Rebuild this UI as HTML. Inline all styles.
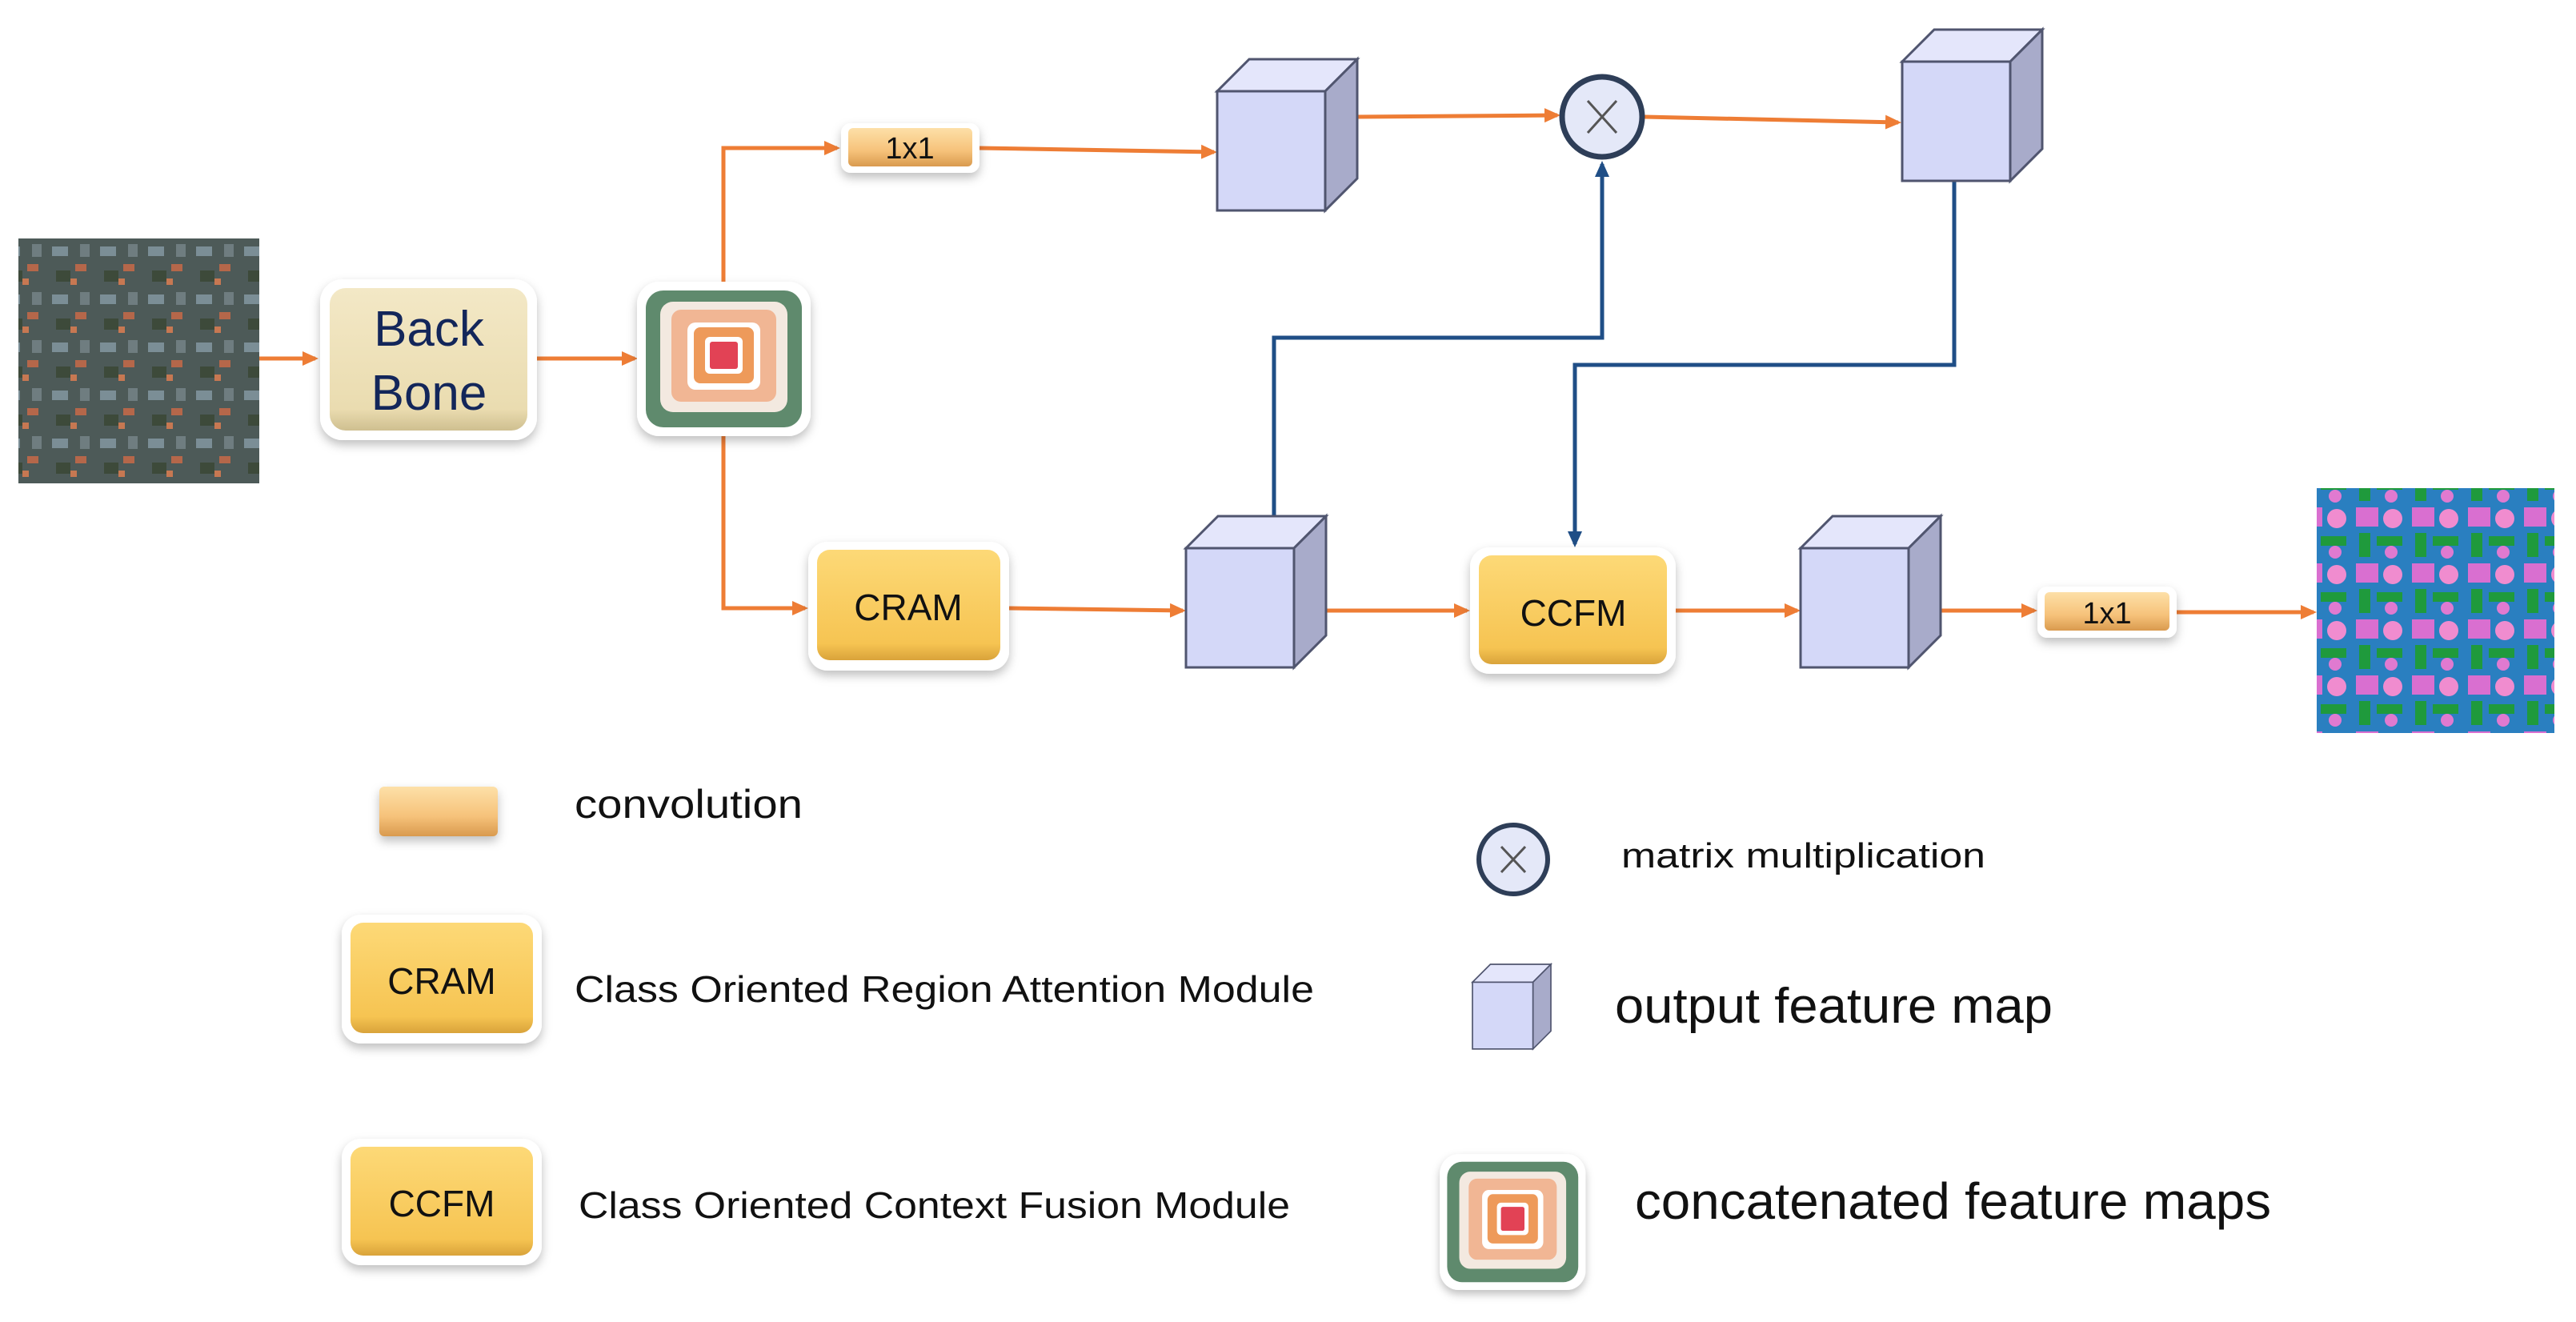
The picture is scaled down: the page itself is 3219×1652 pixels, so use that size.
<!DOCTYPE html>
<html><head><meta charset="utf-8"><style>
html,body{margin:0;padding:0;background:#fff;}
svg{display:block;}
text{font-family:"Liberation Sans",sans-serif;}
</style></head><body>
<svg width="3219" height="1652" viewBox="0 0 3219 1652" xmlns="http://www.w3.org/2000/svg">
<defs>
<marker id="ao" markerWidth="20" markerHeight="18" refX="16" refY="9" orient="auto" markerUnits="userSpaceOnUse" viewBox="0 0 20 18"><path d="M0,0 L20,9 L0,18 z" fill="#ee7d35"/></marker>
<marker id="ab" markerWidth="20" markerHeight="18" refX="16" refY="9" orient="auto" markerUnits="userSpaceOnUse" viewBox="0 0 20 18"><path d="M0,0 L20,9 L0,18 z" fill="#1f4e86"/></marker>
<linearGradient id="gy" x1="0" y1="0" x2="0" y2="1"><stop offset="0" stop-color="#fdd977"/><stop offset="0.85" stop-color="#f6c452"/><stop offset="1" stop-color="#d9a33a"/></linearGradient>
<linearGradient id="gb" x1="0" y1="0" x2="0" y2="1"><stop offset="0" stop-color="#f3e8c6"/><stop offset="0.85" stop-color="#eadcb0"/><stop offset="1" stop-color="#cfbf90"/></linearGradient>
<linearGradient id="gc" x1="0" y1="0" x2="0" y2="1"><stop offset="0" stop-color="#fde0a8"/><stop offset="0.6" stop-color="#f6c27a"/><stop offset="1" stop-color="#d99a4e"/></linearGradient>
<filter id="sh" x="-20%" y="-20%" width="140%" height="150%"><feDropShadow dx="0" dy="6" stdDeviation="6" flood-color="#000" flood-opacity="0.25"/></filter>
<pattern id="aer" width="60" height="60" patternUnits="userSpaceOnUse">
<rect width="60" height="60" fill="#4d5a58"/><rect x="5" y="8" width="20" height="12" fill="#7b8e96"/><rect x="34" y="30" width="14" height="9" fill="#b5674a"/><rect x="10" y="38" width="18" height="14" fill="#3d4a3a"/><rect x="40" y="5" width="12" height="16" fill="#6f7d80"/><rect x="28" y="48" width="8" height="8" fill="#c77852"/></pattern>
<pattern id="seg" width="70" height="70" patternUnits="userSpaceOnUse">
<rect width="70" height="70" fill="#2a7fc0"/><rect x="4" y="4" width="28" height="24" fill="#d96fd0"/><circle cx="50" cy="18" r="12" fill="#f08ccf"/><rect x="8" y="36" width="14" height="30" fill="#1f9a3c"/><rect x="30" y="40" width="32" height="12" fill="#1f9a3c"/><circle cx="48" cy="60" r="8" fill="#e07ad0"/></pattern>
<g id="cube">
<path d="M0,40 L40,0 L175,0 L135,40 Z" fill="#e4e6fb" stroke="#50556f" stroke-width="3"/>
<path d="M135,40 L175,0 L175,149 L135,189 Z" fill="#a8abca" stroke="#50556f" stroke-width="3"/>
<rect x="0" y="40" width="135" height="149" fill="#d4d8f8" stroke="#50556f" stroke-width="3"/>
</g>
<g id="concat">
<rect x="-1" y="-1" width="217" height="193" rx="28" fill="#fff" filter="url(#sh)"/>
<rect x="10" y="10" width="195" height="171" rx="22" fill="#5f8a6d"/>
<rect x="28" y="24" width="159" height="138" rx="16" fill="#f3e9e0"/>
<rect x="42" y="34" width="131" height="115" rx="12" fill="#f1b694"/>
<rect x="62" y="50" width="91" height="84" rx="10" fill="#fff"/>
<rect x="70" y="56" width="75" height="70" rx="8" fill="#ee9a5a"/>
<rect x="84" y="68" width="47" height="46" rx="6" fill="#fff"/>
<rect x="90" y="74" width="35" height="34" rx="3" fill="#e24255"/>
</g>
</defs>

<rect x="23" y="298" width="301" height="306" fill="url(#aer)"/>
<rect x="2895" y="610" width="297" height="306" fill="url(#seg)"/>

<g stroke="#ee7d35" stroke-width="5" fill="none">
<line x1="324" y1="448" x2="394" y2="448" marker-end="url(#ao)"/>
<line x1="671" y1="448" x2="793" y2="448" marker-end="url(#ao)"/>
<polyline points="904,353 904,185 1046,185" marker-end="url(#ao)"/>
<line x1="1224" y1="185" x2="1517" y2="190" marker-end="url(#ao)"/>
<polyline points="904,544 904,760 1006,760" marker-end="url(#ao)"/>
<line x1="1261" y1="760" x2="1478" y2="763" marker-end="url(#ao)"/>
<line x1="1696" y1="146" x2="1946" y2="144" marker-end="url(#ao)"/>
<line x1="2055" y1="146" x2="2372" y2="153" marker-end="url(#ao)"/>
<line x1="1616" y1="763" x2="1833" y2="763" marker-end="url(#ao)"/>
<line x1="2094" y1="763" x2="2246" y2="763" marker-end="url(#ao)"/>
<line x1="2385" y1="763" x2="2542" y2="763" marker-end="url(#ao)"/>
<line x1="2720" y1="765" x2="2891" y2="765" marker-end="url(#ao)"/>
</g>
<g stroke="#1f4e86" stroke-width="5" fill="none">
<polyline points="1592,647 1592,422 2002,422 2002,205" marker-end="url(#ab)"/>
<polyline points="2442,226 2442,456 1968,456 1968,680" marker-end="url(#ab)"/>
</g>

<rect x="400" y="349" width="271" height="201" rx="28" fill="#fff" filter="url(#sh)"/>
<rect x="412" y="360" width="247" height="178" rx="20" fill="url(#gb)"/>
<text x="536" y="432" font-size="62" fill="#13265a" text-anchor="middle">Back</text>
<text x="536" y="512" font-size="62" fill="#13265a" text-anchor="middle">Bone</text>

<use href="#concat" x="797" y="353"/>

<rect x="1051" y="154" width="173" height="62" rx="12" fill="#fff" filter="url(#sh)"/>
<rect x="1060" y="160" width="155" height="48" rx="6" fill="url(#gc)"/>
<text x="1137" y="198" font-size="38" fill="#111" text-anchor="middle">1x1</text>

<use href="#cube" x="1521" y="74"/>
<use href="#cube" x="2377" y="37"/>
<use href="#cube" x="1482" y="645"/>
<use href="#cube" x="2250" y="645"/>

<circle cx="2002" cy="146" r="50" fill="#e4e8f8" stroke="#2e3e58" stroke-width="7"/>
<path d="M1984,126 L2020,166 M2020,126 L1984,166" stroke="#555" stroke-width="3"/>

<rect x="1010" y="677" width="251" height="161" rx="24" fill="#fff" filter="url(#sh)"/>
<rect x="1021" y="687" width="229" height="138" rx="16" fill="url(#gy)"/>
<text x="1135" y="775" font-size="46" fill="#111" text-anchor="middle">CRAM</text>

<rect x="1837" y="684" width="257" height="158" rx="24" fill="#fff" filter="url(#sh)"/>
<rect x="1848" y="694" width="235" height="136" rx="16" fill="url(#gy)"/>
<text x="1966" y="782" font-size="46" fill="#111" text-anchor="middle">CCFM</text>

<rect x="2546" y="733" width="174" height="64" rx="12" fill="#fff" filter="url(#sh)"/>
<rect x="2555" y="740" width="156" height="48" rx="6" fill="url(#gc)"/>
<text x="2633" y="779" font-size="38" fill="#111" text-anchor="middle">1x1</text>

<rect x="474" y="983" width="148" height="62" rx="6" fill="url(#gc)" filter="url(#sh)"/>
<text x="718" y="1022" font-size="50" fill="#111" textLength="285" lengthAdjust="spacingAndGlyphs">convolution</text>

<rect x="427" y="1143" width="250" height="161" rx="24" fill="#fff" filter="url(#sh)"/>
<rect x="438" y="1153" width="228" height="138" rx="16" fill="url(#gy)"/>
<text x="552" y="1242" font-size="46" fill="#111" text-anchor="middle">CRAM</text>
<text x="718" y="1252" font-size="46" fill="#111" textLength="924" lengthAdjust="spacingAndGlyphs">Class Oriented Region Attention Module</text>

<rect x="427" y="1423" width="250" height="158" rx="24" fill="#fff" filter="url(#sh)"/>
<rect x="438" y="1433" width="228" height="136" rx="16" fill="url(#gy)"/>
<text x="552" y="1520" font-size="46" fill="#111" text-anchor="middle">CCFM</text>
<text x="723" y="1522" font-size="46" fill="#111" textLength="889" lengthAdjust="spacingAndGlyphs">Class Oriented Context Fusion Module</text>

<circle cx="1891" cy="1074" r="43" fill="#e4e8f8" stroke="#2e3e58" stroke-width="6"/>
<path d="M1876,1058 L1906,1090 M1906,1058 L1876,1090" stroke="#555" stroke-width="3"/>
<text x="2026" y="1084" font-size="44" fill="#111" textLength="455" lengthAdjust="spacingAndGlyphs">matrix multiplication</text>

<g transform="translate(1840,1205) scale(0.56)"><use href="#cube"/></g>
<text x="2018" y="1278" font-size="62" fill="#111" textLength="547" lengthAdjust="spacingAndGlyphs">output feature map</text>

<g transform="translate(1800,1443) scale(0.84,0.88)"><use href="#concat"/></g>
<text x="2043" y="1523" font-size="64" fill="#111" textLength="795" lengthAdjust="spacingAndGlyphs">concatenated feature maps</text>
</svg>
</body></html>
